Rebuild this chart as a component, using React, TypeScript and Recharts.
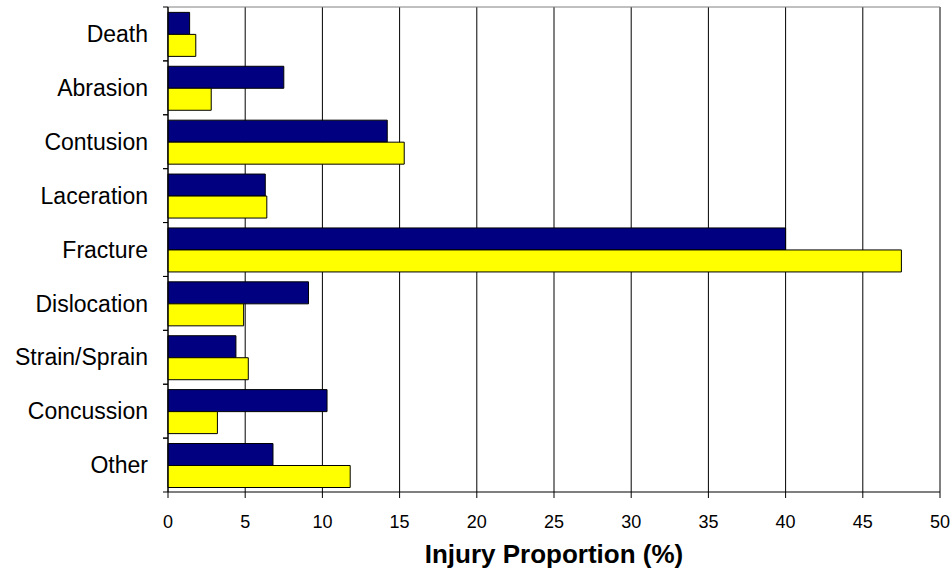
import { BarChart, Bar, XAxis, YAxis, CartesianGrid, ReferenceLine } from 'recharts'

const categories = ['Death', 'Abrasion', 'Contusion', 'Laceration', 'Fracture', 'Dislocation', 'Strain/Sprain', 'Concussion', 'Other']
const navyValues = [1.4, 7.5, 14.2, 6.3, 40.0, 9.1, 4.4, 10.3, 6.8]
const yellowValues = [1.8, 2.8, 15.3, 6.4, 47.5, 4.9, 5.2, 3.2, 11.8]
const xTicks = [0, 5, 10, 15, 20, 25, 30, 35, 40, 45, 50]

const font = '"Liberation Sans", Arial, sans-serif'

// category label plus the small tick marks at the band edges (Excel style)
function CategoryTick(props: any) {
  const { x, y, payload } = props
  const half = payload.offset || 0
  const axisX = x + 20
  return (
    <g>
      <line x1={axisX - 5} x2={axisX} y1={y - half} y2={y - half} stroke="#000" />
      <line x1={axisX - 5} x2={axisX} y1={y + half} y2={y + half} stroke="#000" />
      <text x={x} y={y} dy="0.355em" textAnchor="end" fill="#000" fontSize={23} fontFamily={font}>
        {payload.value}
      </text>
    </g>
  )
}

export default function App() {
  const data = categories.map((name, i) => ({
    name,
    navy: navyValues[i],
    yellow: yellowValues[i],
  }))

  return (
    <div style={{ position: 'absolute', left: 0, top: 0, fontFamily: font }}>
      <BarChart
        width={952}
        height={573}
        data={data}
        layout="vertical"
        margin={{ top: 7, right: 12, left: 0, bottom: 0 }}
        barCategoryGap="10%"
        barGap={0}
      >
        <CartesianGrid horizontal={false} stroke="#000" strokeOpacity={1} />
        <XAxis
          type="number"
          domain={[0, 50]}
          ticks={xTicks}
          interval={0}
          height={81}
          stroke="#000"
          tickSize={6}
          tickMargin={17}
          tick={{ fill: '#000', fontSize: 18, fontFamily: font }}
          label={{
            value: 'Injury Proportion (%)',
            position: 'insideBottom',
            offset: 10,
            fill: '#000',
            fontSize: 26,
            fontWeight: 'bold',
            fontFamily: font,
          }}
        />
        <YAxis
          type="category"
          dataKey="name"
          width={168}
          stroke="#000"
          tickLine={false}
          tickSize={5}
          tickMargin={15}
          interval={0}
          tick={<CategoryTick />}
        />
        <ReferenceLine y="Death" position="start" stroke="#808080" />
        <ReferenceLine x={50} stroke="#808080" />
        <Bar dataKey="navy" fill="#000080" stroke="#000" strokeWidth={1} isAnimationActive={false} />
        <Bar dataKey="yellow" fill="#FFFF00" stroke="#000" strokeWidth={1} isAnimationActive={false} />
      </BarChart>
    </div>
  )
}
